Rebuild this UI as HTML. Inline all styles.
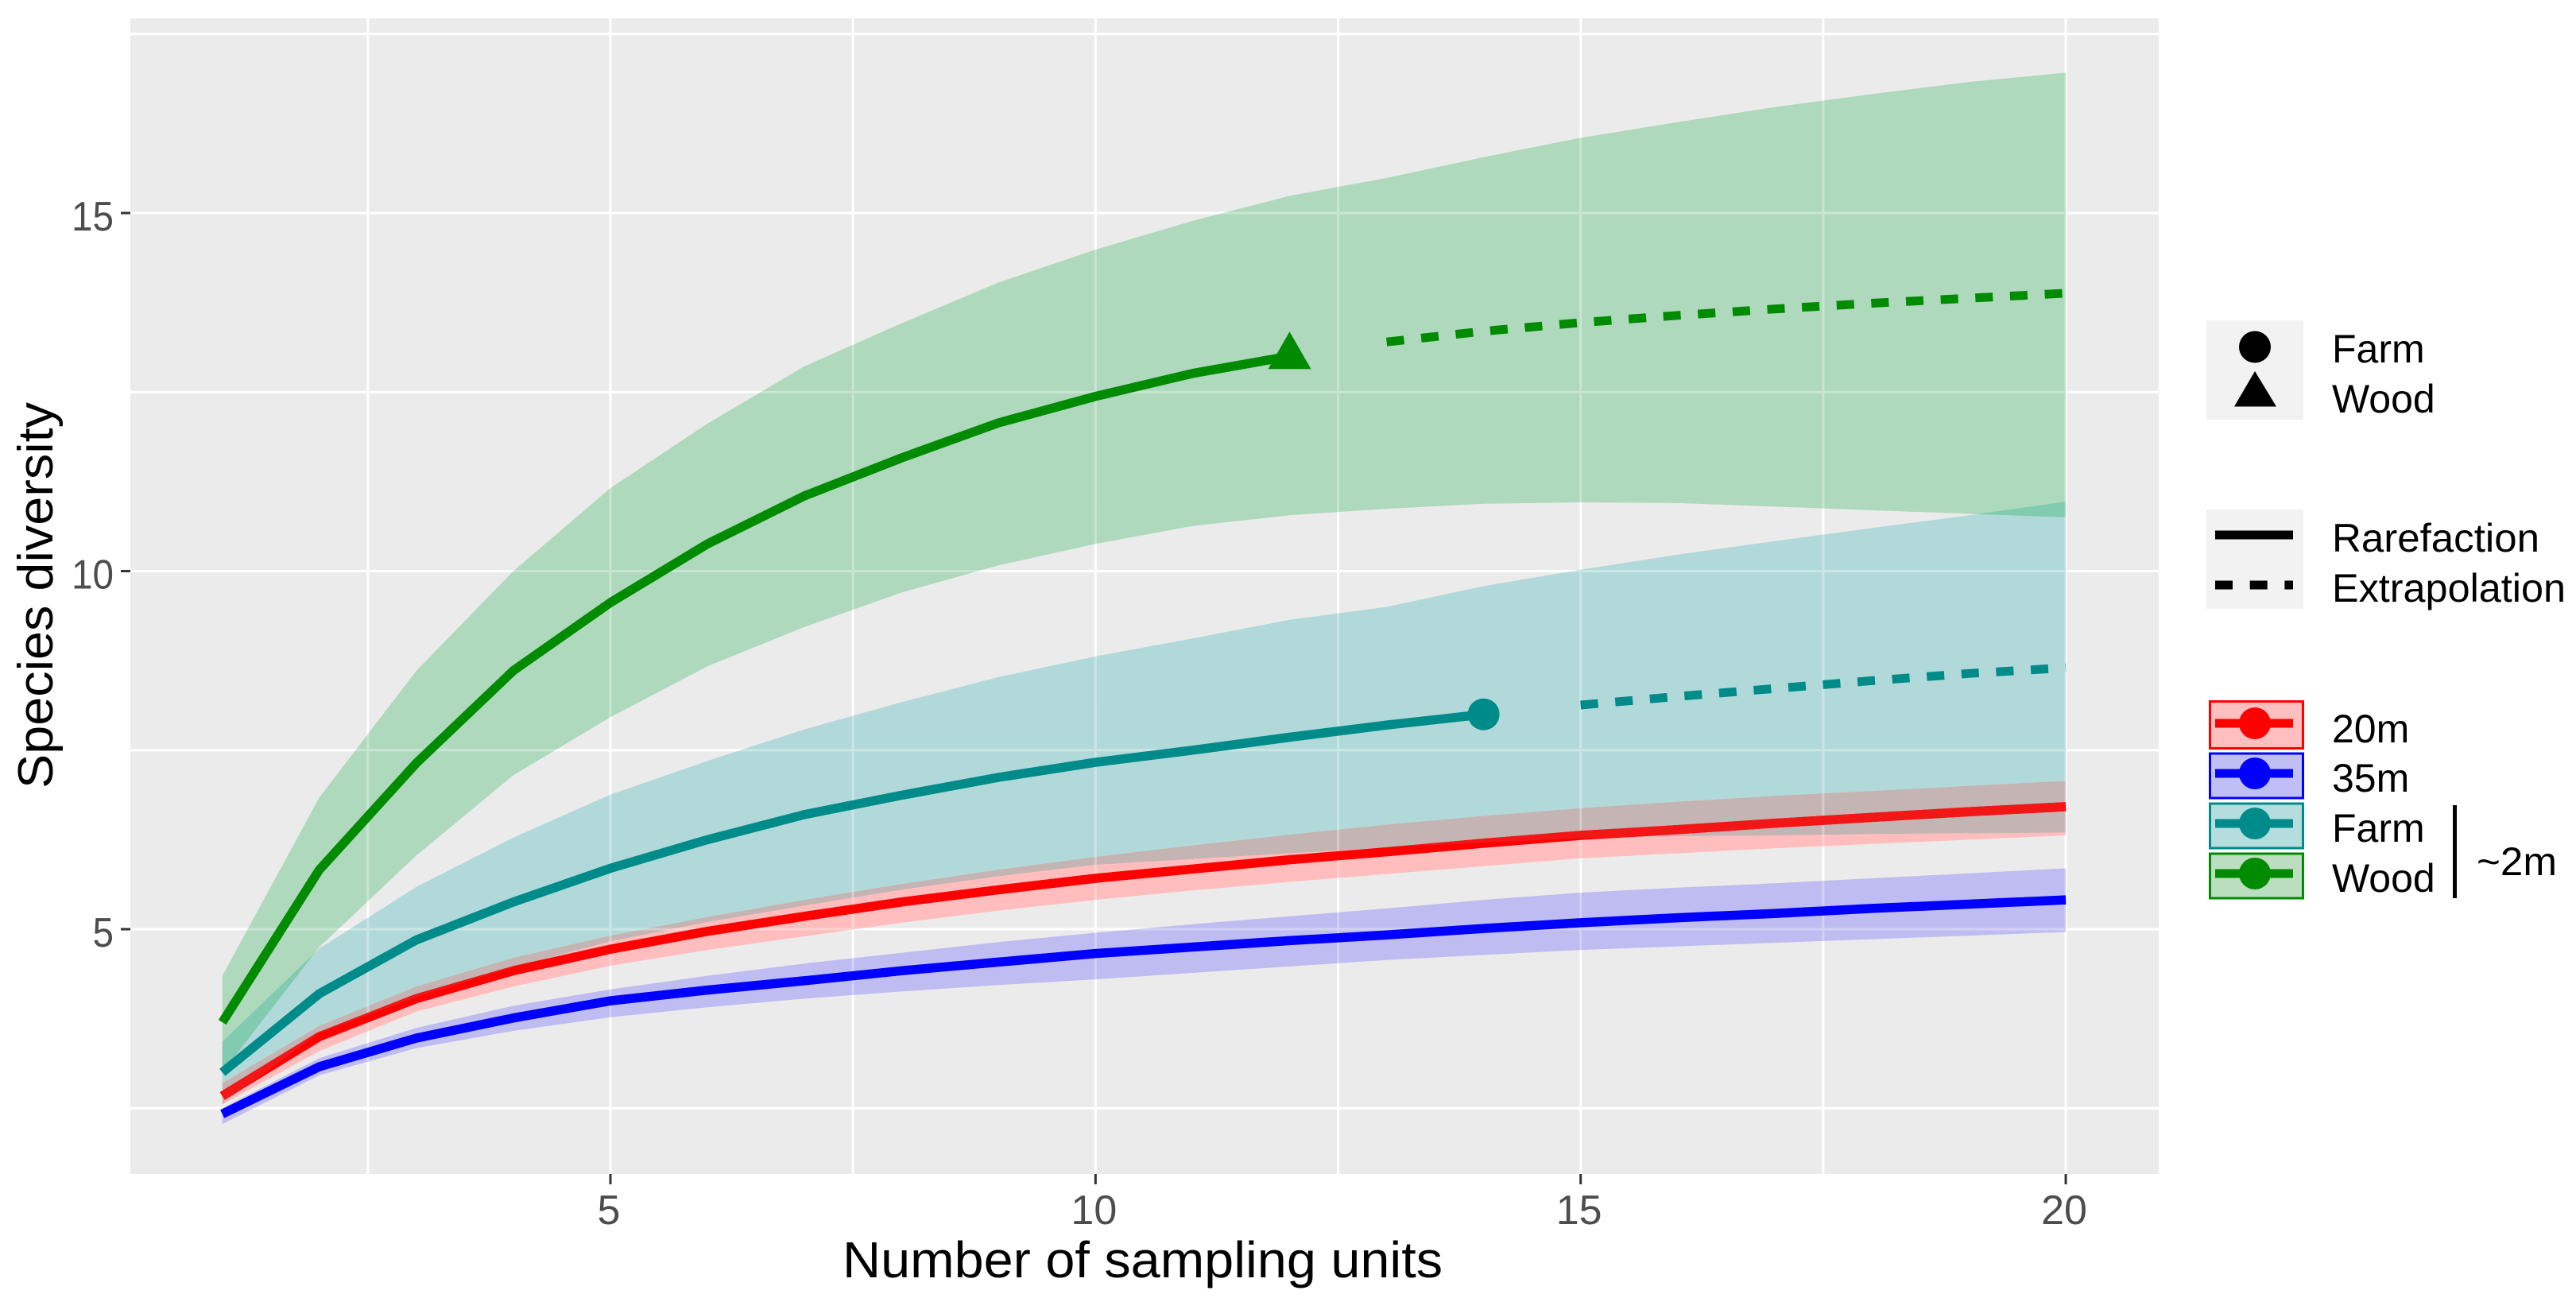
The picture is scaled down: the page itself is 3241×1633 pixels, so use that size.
<!DOCTYPE html>
<html lang="en">
<head>
<meta charset="utf-8">
<title>Species diversity rarefaction chart</title>
<style>
html,body{margin:0;padding:0;background:#fff;}
svg{display:block;}
text{font-family:"Liberation Sans",Arial,sans-serif;}
</style>
</head>
<body>
<svg id="chart" xmlns="http://www.w3.org/2000/svg" width="3241" height="1633" viewBox="0 0 3241 1633">
  <rect x="0" y="0" width="3241" height="1633" fill="#ffffff"/>
  <rect x="164" y="23" width="2552" height="1454" fill="#EBEBEB"/>
  <g id="grid"></g>
  <g id="ribbons"></g>
  <g id="gridOver"></g>
  <g id="lines"></g>
  <g id="axes"></g>

  <text x="1060" y="1607" font-size="64" fill="#000" textLength="755" lengthAdjust="spacingAndGlyphs">Number of sampling units</text>
  <text transform="translate(66,992) rotate(-90)" font-size="62" fill="#000" textLength="486" lengthAdjust="spacingAndGlyphs">Species diversity</text>

  <g>
    <rect x="2776" y="403" width="122" height="125" fill="#F2F2F2"/>
    <circle cx="2837" cy="436.5" r="20" fill="#000"/>
    <polygon points="2837,467 2864,511.5 2811,511.5" fill="#000"/>
    <text x="2934" y="456" font-size="50">Farm</text>
    <text x="2934" y="519" font-size="50">Wood</text>
  </g>

  <g>
    <rect x="2776" y="641" width="122" height="125" fill="#F2F2F2"/>
    <line x1="2787" x2="2885" y1="673" y2="673" stroke="#000" stroke-width="11"/>
    <line x1="2787" x2="2885" y1="736" y2="736" stroke="#000" stroke-width="11" stroke-dasharray="22 21.7"/>
    <text x="2934" y="694" font-size="50" textLength="261" lengthAdjust="spacingAndGlyphs">Rarefaction</text>
    <text x="2934" y="757" font-size="50" textLength="294" lengthAdjust="spacingAndGlyphs">Extrapolation</text>
  </g>

  <g>
    <rect x="2780.5" y="882.5" width="117" height="59" fill="#FFBFBF" stroke="#FF0000" stroke-width="3"/>
    <line x1="2787" x2="2885" y1="910" y2="910" stroke="#FF0000" stroke-width="11"/>
    <circle cx="2837" cy="910" r="20" fill="#FF0000"/>
    <text x="2934" y="934" font-size="50">20m</text>

    <rect x="2780.5" y="948" width="117" height="56" fill="#C0BFF5" stroke="#0000FF" stroke-width="3"/>
    <line x1="2787" x2="2885" y1="973" y2="973" stroke="#0000FF" stroke-width="11"/>
    <circle cx="2837" cy="973" r="20" fill="#0000FF"/>
    <text x="2934" y="996" font-size="50">35m</text>

    <rect x="2780.5" y="1011" width="117" height="56" fill="#B5DDDD" stroke="#008B8B" stroke-width="3"/>
    <line x1="2787" x2="2885" y1="1036" y2="1036" stroke="#008B8B" stroke-width="11"/>
    <circle cx="2837" cy="1036" r="20" fill="#008B8B"/>
    <text x="2934" y="1059" font-size="50">Farm</text>

    <rect x="2780.5" y="1074" width="117" height="56" fill="#BBDDC0" stroke="#008B00" stroke-width="3"/>
    <line x1="2787" x2="2885" y1="1099" y2="1099" stroke="#008B00" stroke-width="11"/>
    <circle cx="2837" cy="1099" r="20" fill="#008B00"/>
    <text x="2934" y="1122" font-size="50">Wood</text>

    <line x1="3088.5" x2="3088.5" y1="1013" y2="1130" stroke="#000" stroke-width="5"/>
    <text x="3116" y="1101" font-size="50" textLength="101" lengthAdjust="spacingAndGlyphs">~2m</text>
  </g>
</svg>

<script>
const sampleUnits = [1,2,3,4,5,6,7,8,9,10,11,12,13,14,15,16,17,18,19,20];

const xTickValues = [5,10,15,20];
const xTickLabels = ['5','10','15','20'];
const yTickValues = [5,10,15];
const yTickLabels = ['5','10','15'];
const xMinorValues = [2.5,7.5,12.5,17.5];
const yMinorValues = [2.5,7.5,12.5,17.5];

const woodMean  = [3.7,5.83,7.32,8.61,9.56,10.38,11.05,11.58,12.07,12.44,12.76,13.0,13.2,13.35,13.47,13.57,13.66,13.74,13.81,13.88];
const woodUpper = [4.35,6.84,8.61,10.0,11.16,12.06,12.86,13.46,14.03,14.49,14.89,15.24,15.49,15.78,16.05,16.27,16.48,16.66,16.83,16.96];
const woodLower = [3.0,4.75,6.03,7.15,7.96,8.67,9.22,9.7,10.08,10.38,10.63,10.78,10.87,10.94,10.96,10.95,10.9,10.85,10.8,10.75];
const woodObservedUnits = 12;

const farmMean  = [3.0,4.1,4.85,5.38,5.85,6.25,6.6,6.87,7.12,7.33,7.5,7.68,7.85,8.0,8.13,8.25,8.36,8.47,8.57,8.65];
const farmUpper = [3.43,4.73,5.59,6.28,6.88,7.35,7.79,8.17,8.52,8.81,9.06,9.32,9.5,9.79,10.02,10.23,10.42,10.6,10.78,10.97];
const farmLower = [2.56,3.55,4.05,4.47,4.83,5.1,5.33,5.55,5.74,5.9,5.98,6.06,6.14,6.21,6.27,6.3,6.31,6.33,6.34,6.35];
const farmObservedUnits = 14;

const m20Mean  = [2.67,3.5,4.03,4.42,4.72,4.97,5.18,5.38,5.55,5.71,5.84,5.97,6.08,6.2,6.31,6.39,6.48,6.56,6.64,6.71];
const m20Upper = [2.85,3.65,4.2,4.6,4.91,5.17,5.41,5.63,5.83,6.01,6.17,6.32,6.46,6.58,6.69,6.78,6.86,6.93,7.0,7.07];
const m20Lower = [2.55,3.3,3.85,4.2,4.49,4.71,4.9,5.09,5.26,5.41,5.54,5.66,5.77,5.88,5.99,6.06,6.13,6.19,6.25,6.31];

const m35Mean  = [2.42,3.08,3.48,3.76,4.0,4.15,4.28,4.42,4.54,4.66,4.75,4.84,4.92,5.01,5.09,5.16,5.22,5.29,5.35,5.41];
const m35Upper = [2.5,3.2,3.62,3.93,4.16,4.35,4.52,4.67,4.82,4.95,5.07,5.18,5.29,5.41,5.51,5.58,5.64,5.71,5.78,5.85];
const m35Lower = [2.28,2.96,3.34,3.58,3.77,3.91,4.03,4.13,4.22,4.3,4.39,4.48,4.57,4.64,4.71,4.76,4.81,4.86,4.91,4.96];

function xScale(v) { return 768 + (v - 5) * 122.07; }
function yScale(v) { return 1169 - (v - 5) * 90.1; }

const SVG_NS = 'http://www.w3.org/2000/svg';
function create(tag, parent, props) {
  const el = document.createElementNS(SVG_NS, tag);
  for (const k in props) el.setAttribute(k, props[k]);
  parent.appendChild(el);
  return el;
}
function linePoints(xs, ys) {
  return xs.map((x, i) => xScale(x).toFixed(1) + ',' + yScale(ys[i]).toFixed(1)).join(' ');
}
function ribbonPoints(xs, upper, lower) {
  const revX = xs.slice().reverse();
  const revL = lower.slice().reverse();
  return linePoints(xs, upper) + ' ' + linePoints(revX, revL);
}

const grid = document.getElementById('grid');
const gridOver = document.getElementById('gridOver');
const ribbons = document.getElementById('ribbons');
const lines = document.getElementById('lines');
const axes = document.getElementById('axes');

/* clip paths */
const defs = create('defs', document.getElementById('chart'), {});
const woodRibbonPts = ribbonPoints(sampleUnits, woodUpper, woodLower);
const farmRibbonPts = ribbonPoints(sampleUnits, farmUpper, farmLower);
const m20RibbonPts = ribbonPoints(sampleUnits, m20Upper, m20Lower);
const m35RibbonPts = ribbonPoints(sampleUnits, m35Upper, m35Lower);

const clipFarm = create('clipPath', defs, {id: 'clipFarm'});
create('polygon', clipFarm, {points: farmRibbonPts});
const clipAll = create('clipPath', defs, {id: 'clipAll'});
[woodRibbonPts, farmRibbonPts, m20RibbonPts, m35RibbonPts].forEach(p => create('polygon', clipAll, {points: p}));
gridOver.setAttribute('clip-path', 'url(#clipAll)');
gridOver.setAttribute('opacity', '0.32');

/* grid lines */
function drawGrid(parent) {
  xMinorValues.concat(xTickValues).forEach(v => {
    const el = create('line', parent, {x1: xScale(v), x2: xScale(v), y1: 23, y2: 1477, stroke: '#fff', 'stroke-width': 3});
    
    
  });
  yMinorValues.concat(yTickValues).forEach(v => {
    const el = create('line', parent, {x1: 164, x2: 2716, y1: yScale(v), y2: yScale(v), stroke: '#fff', 'stroke-width': 3});
    
    
  });
}
drawGrid(grid);
drawGrid(gridOver);

/* ribbons */
const woodRibbon = create('polygon', ribbons, {points: woodRibbonPts, fill: '#AFD9BD'});


const farmRibbon = create('polygon', ribbons, {points: farmRibbonPts, fill: '#B2D9DA'});


const m20Ribbon = create('polygon', ribbons, {points: m20RibbonPts, fill: '#FFBDBD'});


const m35Ribbon = create('polygon', ribbons, {points: m35RibbonPts, fill: '#BEBCF0'});


const woodFarmOverlap = create('polygon', ribbons, {points: woodRibbonPts, fill: '#81CBB0', 'clip-path': 'url(#clipFarm)'});


const m20FarmOverlap = create('polygon', ribbons, {points: m20RibbonPts, fill: '#C4B4B4', 'clip-path': 'url(#clipFarm)'});



/* series lines */
const LW = 11.5;
const DASH = '22 21.7';
const m20Line = create('polyline', lines, {points: linePoints(sampleUnits, m20Mean), fill: 'none', stroke: '#FF0000', 'stroke-width': LW, 'stroke-linejoin': 'round'});


const m20LineShade = create('polyline', lines, {points: linePoints(sampleUnits, m20Mean), fill: 'none', stroke: '#F21616', 'stroke-width': LW, 'stroke-linejoin': 'round', 'clip-path': 'url(#clipFarm)'});


const m35Line = create('polyline', lines, {points: linePoints(sampleUnits, m35Mean), fill: 'none', stroke: '#0000FF', 'stroke-width': LW, 'stroke-linejoin': 'round'});



const farmObsLine = create('polyline', lines, {points: linePoints(sampleUnits.slice(0, farmObservedUnits), farmMean.slice(0, farmObservedUnits)), fill: 'none', stroke: '#008B8B', 'stroke-width': LW, 'stroke-linejoin': 'round'});


const farmExtLine = create('polyline', lines, {points: linePoints(sampleUnits.slice(farmObservedUnits), farmMean.slice(farmObservedUnits)), fill: 'none', stroke: '#008B8B', 'stroke-width': 11, 'stroke-dasharray': DASH});



const woodObsLine = create('polyline', lines, {points: linePoints(sampleUnits.slice(0, woodObservedUnits), woodMean.slice(0, woodObservedUnits)), fill: 'none', stroke: '#008B00', 'stroke-width': LW, 'stroke-linejoin': 'round'});


const woodExtLine = create('polyline', lines, {points: linePoints(sampleUnits.slice(woodObservedUnits), woodMean.slice(woodObservedUnits)), fill: 'none', stroke: '#008B00', 'stroke-width': 11, 'stroke-dasharray': DASH});



/* observed end points */
const farmPoint = create('circle', lines, {cx: xScale(sampleUnits[farmObservedUnits - 1]), cy: yScale(farmMean[farmObservedUnits - 1]), r: 20, fill: '#008B8B'});


const wx = xScale(sampleUnits[woodObservedUnits - 1]);
const wy = yScale(woodMean[woodObservedUnits - 1]);
const woodPoint = create('polygon', lines, {points: wx + ',' + (wy - 31) + ' ' + (wx + 27) + ',' + (wy + 16) + ' ' + (wx - 27) + ',' + (wy + 16), fill: '#008B00'});



/* axes */
xTickValues.forEach((v, i) => {
  const tick = create('line', axes, {x1: xScale(v), x2: xScale(v), y1: 1477, y2: 1490, stroke: '#333333', 'stroke-width': 3});
  
  
  const label = create('text', axes, {x: xScale(v) - 2, y: 1540, 'font-size': 52, fill: '#4D4D4D', 'text-anchor': 'middle'});
  
  
  label.textContent = xTickLabels[i];
});
yTickValues.forEach((v, i) => {
  const tick = create('line', axes, {x1: 152, x2: 164, y1: yScale(v), y2: yScale(v), stroke: '#333333', 'stroke-width': 3});
  
  
  const label = create('text', axes, {x: 143, y: yScale(v) + 22, 'font-size': 52, fill: '#4D4D4D', 'text-anchor': 'end', textLength: yTickLabels[i].length * 26.5, lengthAdjust: 'spacingAndGlyphs'});
  
  
  label.textContent = yTickLabels[i];
});
</script>
</body>
</html>
